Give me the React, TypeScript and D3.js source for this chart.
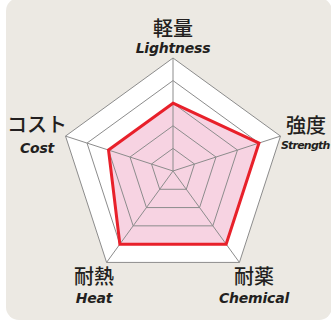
import React from "react";
import * as d3 from "d3";

const axesJa = ["軽量", "強度", "耐薬", "耐熱", "コスト"];
const axesEn = ["Lightness", "Strength", "Chemical", "Heat", "Cost"];
const values = [3, 4, 4, 4, 3];
const levels = [1, 2, 3, 4, 5];
const maxValue = 5;

const W = 331, H = 322;
const cx = 173, cy = 171, R = 113;

export default function App() {
  const r = d3.scaleLinear().domain([0, maxValue]).range([0, R]);
  const n = axesJa.length;
  const angle = (i: number) => (i * 2 * Math.PI) / n;
  const pt = (i: number, v: number): [number, number] => [
    cx + r(v) * Math.sin(angle(i)),
    cy - r(v) * Math.cos(angle(i)),
  ];
  const line = d3.line().curve(d3.curveLinearClosed);
  const ring = (v: number) => line(d3.range(n).map((i) => pt(i, v))) as string;
  const dataPath = line(values.map((v, i) => pt(i, v))) as string;

  const labelPos = [
    { x: 173, ja: 36, en: 53, ex: 173, anchor: "middle", enSize: 14, ls: -0.2 },
    { x: 306, ja: 133, en: 149, ex: 281, anchor: "start", enSize: 11, ls: -0.8 },
    { x: 254, ja: 284, en: 303, ex: 254, anchor: "middle", enSize: 14, ls: -0.2 },
    { x: 94, ja: 284, en: 303, ex: 94, anchor: "middle", enSize: 14, ls: -0.2 },
    { x: 37, ja: 132, en: 153, ex: 37, anchor: "middle", enSize: 14, ls: -0.2 },
  ];

  return (
    <svg width={W} height={H} style={{ position: "absolute", left: 0, top: 0 }}>
      <rect x={0} y={0} width={W} height={H} fill="#ffffff" />
      <rect x={6} y={-2} width={326} height={322} rx={13} fill="#ece9e3" />
      <path d={ring(maxValue)} fill="#ffffff" />
      <path d={dataPath} fill="#f7d3e2" />
      {levels.map((l) => (
        <path key={l} d={ring(l)} fill="none" stroke="#8c8c8c" strokeWidth={1} />
      ))}
      {d3.range(n).map((i) => {
        const [x, y] = pt(i, maxValue);
        return <line key={i} x1={cx} y1={cy} x2={x} y2={y} stroke="#8c8c8c" strokeWidth={1} />;
      })}
      <path d={dataPath} fill="none" stroke="#e8202a" strokeWidth={3} strokeLinejoin="miter" />
      {labelPos.map((p, i) => (
        <g key={i}>
          <text
            x={p.x}
            y={p.ja}
            textAnchor="middle"
            fontFamily="'Noto Sans CJK JP', sans-serif"
            fontSize={20}
            fontWeight={500}
            fill="#231f20"
          >
            {axesJa[i]}
          </text>
          <text
            x={p.ex}
            y={p.en}
            textAnchor={p.anchor as any}
            fontFamily="'DejaVu Sans', sans-serif"
            fontSize={p.enSize}
            fontWeight={700}
            fontStyle="italic"
            letterSpacing={p.ls}
            fill="#231f20"
          >
            {axesEn[i]}
          </text>
        </g>
      ))}
    </svg>
  );
}
